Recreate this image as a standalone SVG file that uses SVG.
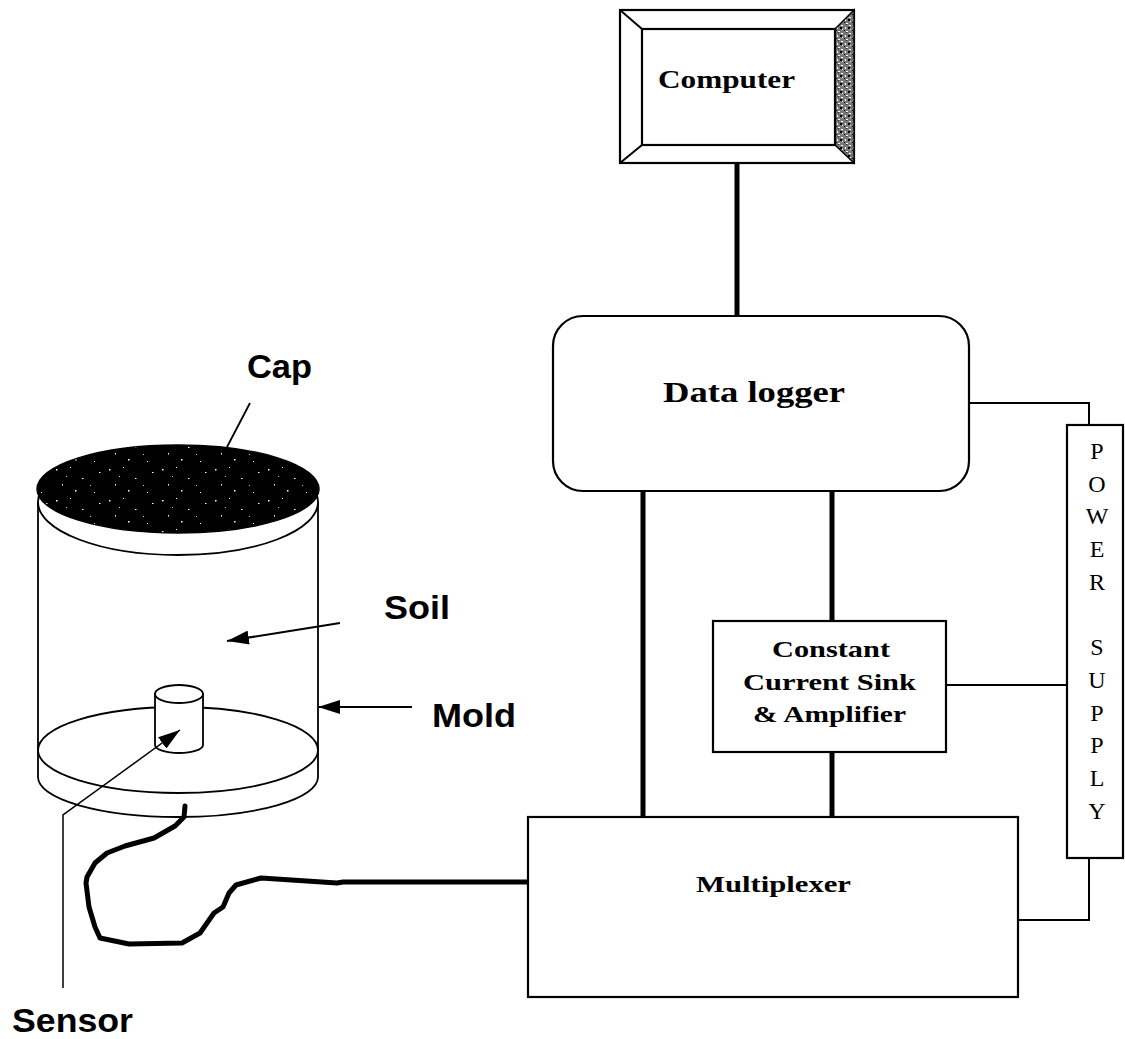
<svg xmlns="http://www.w3.org/2000/svg" width="1125" height="1039" viewBox="0 0 1125 1039">
  <style>
    .box { fill: #fff; stroke: #000; stroke-width: 2.2; }
    .thin { fill: none; stroke: #000; stroke-width: 2; }
    .bus { fill: none; stroke: #000; stroke-width: 5; }
    .outline { fill: none; stroke: #000; stroke-width: 1.8; }
    .serifB { font-family: "Liberation Serif", "Times New Roman", serif; font-weight: bold; fill: #000; }
    .serif { font-family: "Liberation Serif", "Times New Roman", serif; fill: #000; }
    .sansB { font-family: "Liberation Sans", Arial, sans-serif; font-weight: bold; font-size: 34px; fill: #000; }
  </style>
  <defs>
    <!-- speckled black fill for the cap -->
    <pattern id="speckle" width="53" height="31" patternUnits="userSpaceOnUse">
      <rect width="53" height="31" fill="#000"/>
      <rect x="3" y="4" width="1.5" height="1.5" fill="#fff"/>
      <rect x="17" y="2" width="1" height="1" fill="#fff"/>
      <rect x="29" y="13" width="1.5" height="1" fill="#fff"/>
      <rect x="9" y="19" width="1" height="1.5" fill="#fff"/>
      <rect x="22" y="25" width="1.5" height="1.5" fill="#fff"/>
      <rect x="41" y="27" width="1" height="1" fill="#fff"/>
      <rect x="46" y="7" width="1.5" height="1" fill="#fff"/>
      <rect x="37" y="20" width="1" height="1" fill="#ccc"/>
      <rect x="13" y="11" width="1" height="1" fill="#ccc"/>
    </pattern>
    <!-- grainy shading for the computer bevel -->
    <pattern id="grain" width="8" height="8" patternUnits="userSpaceOnUse">
      <rect width="8" height="8" fill="#777"/>
      <rect x="1" y="1" width="2" height="1" fill="#fff"/>
      <rect x="5" y="3" width="1" height="2" fill="#fff"/>
      <rect x="2" y="5" width="1" height="1" fill="#eee"/>
      <rect x="6" y="7" width="2" height="1" fill="#fff"/>
      <rect x="0" y="3" width="2" height="2" fill="#000"/>
      <rect x="4" y="6" width="1" height="1" fill="#000"/>
      <rect x="6" y="0" width="1" height="1" fill="#222"/>
    </pattern>
    <marker id="head" viewBox="0 0 22 14" refX="22" refY="7" markerWidth="22" markerHeight="14" markerUnits="userSpaceOnUse" orient="auto">
      <path d="M0,0 L22,7 L0,14 Z" fill="#000"/>
    </marker>
  </defs>

  <rect width="1125" height="1039" fill="#fff"/>

  <!-- connectors -->
  <g id="connectors">
    <line class="bus" x1="737" y1="163" x2="737" y2="316"/>
    <line class="bus" x1="643" y1="491" x2="643" y2="817"/>
    <line class="bus" x1="832" y1="491" x2="832" y2="621"/>
    <line class="bus" x1="832" y1="752" x2="832" y2="817"/>
    <polyline class="thin" points="969,403 1089,403 1089,425"/>
    <line class="thin" x1="946" y1="685" x2="1067" y2="685"/>
    <polyline class="thin" points="1018,920 1089,920 1089,858"/>
    <!-- sensor cable -->
    <polyline fill="none" stroke="#000" stroke-width="5" stroke-linejoin="round" stroke-linecap="round"
      points="185,806 184,817 175,826 154,838 125,846 107,853 95,863 87,877 86,883 89,907 95,927 100,938 129,944 182,943 200,933 214,913 223,907 229,893 236,885 261,878 337,883 343,882 528,882"/>
  </g>

  <!-- computer -->
  <g id="computer">
    <rect class="box" x="620" y="10" width="234" height="153"/>
    <polygon points="835,29 854,10 854,163 835,145" fill="url(#grain)" stroke="#000" stroke-width="1.5"/>
    <rect class="box" x="642" y="29" width="193" height="116"/>
    <line class="thin" x1="620" y1="10" x2="642" y2="29"/>
    <line class="thin" x1="620" y1="163" x2="642" y2="145"/>
    <text class="serifB" x="658" y="88" font-size="25" textLength="137" lengthAdjust="spacingAndGlyphs">Computer</text>
  </g>

  <!-- data logger -->
  <g id="data-logger">
    <rect class="box" x="553" y="316" width="416" height="175" rx="30" ry="30"/>
    <text class="serifB" x="663" y="402" font-size="30" textLength="182" lengthAdjust="spacingAndGlyphs">Data logger</text>
  </g>

  <!-- constant current sink -->
  <g id="current-sink">
    <rect class="box" x="713" y="621" width="233" height="131"/>
    <text class="serifB" x="772" y="657" font-size="23" textLength="118" lengthAdjust="spacingAndGlyphs">Constant</text>
    <text class="serifB" x="743" y="690" font-size="23" textLength="173" lengthAdjust="spacingAndGlyphs">Current Sink</text>
    <text class="serifB" x="753" y="722" font-size="23" textLength="153" lengthAdjust="spacingAndGlyphs">&amp; Amplifier</text>
  </g>

  <!-- multiplexer -->
  <g id="multiplexer">
    <rect class="box" x="528" y="817" width="490" height="180"/>
    <text class="serifB" x="696" y="892" font-size="24" textLength="155" lengthAdjust="spacingAndGlyphs">Multiplexer</text>
  </g>

  <!-- power supply -->
  <g id="power-supply">
    <rect class="box" x="1067" y="425" width="56" height="433"/>
    <g class="serif" font-size="24" text-anchor="middle">
      <text x="1097" y="459">P</text>
      <text x="1097" y="492">O</text>
      <text x="1097" y="524">W</text>
      <text x="1097" y="557">E</text>
      <text x="1097" y="590">R</text>
      <text x="1097" y="655">S</text>
      <text x="1097" y="688">U</text>
      <text x="1097" y="721">P</text>
      <text x="1097" y="753">P</text>
      <text x="1097" y="786">L</text>
      <text x="1097" y="819">Y</text>
    </g>
  </g>

  <!-- soil mold with cap and sensor -->
  <g id="mold">
    <line class="outline" x1="38" y1="502" x2="38" y2="777"/>
    <line class="outline" x1="318" y1="502" x2="318" y2="777"/>
    <ellipse cx="178" cy="502" rx="140" ry="53" fill="#fff" stroke="#000" stroke-width="1.8"/>
    <ellipse cx="178" cy="750" rx="140" ry="43" class="outline"/>
    <path class="outline" d="M38,777 A140,40 0 0 0 318,777"/>
  </g>
  <g id="cap">
    <ellipse cx="178" cy="489" rx="141" ry="44" fill="url(#speckle)" stroke="#000" stroke-width="1.5"/>
  </g>
  <g id="sensor">
    <path d="M155,694 L155,745 A24,8 0 0 0 203,745 L203,694 Z" fill="#fff" stroke="#000" stroke-width="1.8"/>
    <ellipse cx="179" cy="694" rx="24" ry="9" fill="#fff" stroke="#000" stroke-width="1.8"/>
  </g>

  <!-- labels and leaders -->
  <g id="labels">
    <line x1="250" y1="403" x2="227" y2="447" stroke="#000" stroke-width="1.8"/>
    <text class="sansB" x="247" y="378" textLength="65" lengthAdjust="spacingAndGlyphs">Cap</text>
    <line x1="340" y1="623" x2="227" y2="641" stroke="#000" stroke-width="2" marker-end="url(#head)"/>
    <text class="sansB" x="384" y="619" textLength="66" lengthAdjust="spacingAndGlyphs">Soil</text>
    <line x1="412" y1="707" x2="318" y2="707" stroke="#000" stroke-width="2" marker-end="url(#head)"/>
    <text class="sansB" x="432" y="727" textLength="84" lengthAdjust="spacingAndGlyphs">Mold</text>
    <polyline points="63,988 63,815 180,730" fill="none" stroke="#000" stroke-width="1.5" marker-end="url(#head)"/>
    <text class="sansB" x="12" y="1032" textLength="121" lengthAdjust="spacingAndGlyphs">Sensor</text>
  </g>
</svg>
